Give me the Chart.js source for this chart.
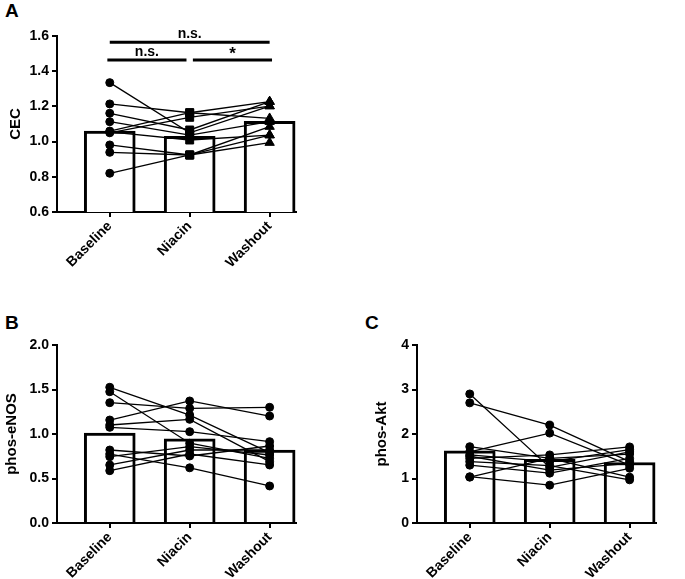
<!DOCTYPE html>
<html>
<head>
<meta charset="utf-8">
<script src="https://cdn.jsdelivr.net/npm/chart.js@4.4.1/dist/chart.umd.min.js"></script>
<style>
  body { margin: 0; background: #fff; width: 685px; height: 579px; position: relative; overflow: hidden;
         font-family: "Liberation Sans", Arial, sans-serif; }
  canvas { position: absolute; }
  .tag { position: absolute; font-weight: bold; font-size: 19px; line-height: 1; color: #000; }
</style>
</head>
<body>
<div class="tag" style="left:5px;top:1px">A</div>
<div class="tag" style="left:5px;top:313px">B</div>
<div class="tag" style="left:365px;top:313px">C</div>
<canvas id="cec" style="left:0;top:0" width="320" height="290"></canvas>
<canvas id="enos" style="left:0;top:300px" width="320" height="279"></canvas>
<canvas id="akt" style="left:360px;top:300px" width="320" height="279"></canvas>
<script>
const categories = ['Baseline', 'Niacin', 'Washout'];

// panel A - CEC, one row per subject (baseline, niacin, washout)
const cecMeans = [1.06, 1.03, 1.115];
const cecSubjects = [
    [1.335, 1.050, 1.202],
    [1.214, 1.164, 1.132],
    [1.161, 1.066, 1.227],
    [1.113, 1.037, 1.113],
    [1.060, 1.164, 1.227],
    [1.050, 1.138, 1.202],
    [0.981, 0.924, 1.085],
    [0.939, 0.924, 0.994],
    [0.820, 0.924, 1.037],
    [1.055, 1.009, 1.037]
];
const cecTicks = [0.6, 1.6, 0.2];
// significance brackets: from, to, value, label
const cecSig = [
    [0, 2, 1.565, 'n.s.'],
    [-0.03, 0.96, 1.463, 'n.s.'],
    [1.04, 2.03, 1.463, '*']
];

// panel B - phos-eNOS
const enosMeans = [1.01, 0.945, 0.82];
const enosSubjects = [
    [1.525, 1.213, 0.790],
    [1.475, 0.896, 0.727],
    [1.352, 1.288, 1.300],
    [1.157, 1.371, 1.202],
    [1.101, 1.165, 0.689],
    [1.075, 1.026, 0.914],
    [0.820, 0.753, 0.865],
    [0.775, 0.620, 0.416],
    [0.745, 0.857, 0.764],
    [0.652, 0.820, 0.820],
    [0.588, 0.775, 0.652]
];
const enosTicks = [0, 2, 0.5];

// panel C - phos-Akt
const aktMeans = [1.62, 1.43, 1.36];
const aktSubjects = [
    [2.90, 1.25, 1.60],
    [2.70, 2.20, 1.38],
    [1.60, 2.02, 1.30],
    [1.715, 1.45, 1.03],
    [1.53, 1.38, 1.65],
    [1.45, 1.53, 1.71],
    [1.38, 1.29, 0.97],
    [1.30, 1.12, 1.45],
    [1.04, 0.85, 1.23],
    [1.03, 1.45, 1.55],
    [1.50, 1.19, 1.34]
];
const aktTicks = [0, 4, 1];

const black = '#000';
const boldFont = size => ({ family: '"Liberation Sans", Arial, sans-serif', size: size, weight: 'bold' });

// draws the comparison brackets above the bars
const sigPlugin = {
    id: 'sig',
    afterDatasetsDraw(chart, args, opts) {
        const rows = opts.rows || [];
        const { ctx, scales: { x, y } } = chart;
        ctx.save();
        ctx.strokeStyle = black;
        ctx.fillStyle = black;
        ctx.lineWidth = 3;
        ctx.textAlign = 'center';
        ctx.textBaseline = 'bottom';
        rows.forEach(([from, to, val, label]) => {
            const x1 = x.getPixelForValue(from), x2 = x.getPixelForValue(to), py = y.getPixelForValue(val);
            ctx.beginPath();
            ctx.moveTo(x1, py);
            ctx.lineTo(x2, py);
            ctx.stroke();
            const star = label === '*';
            ctx.font = (star ? 'bold 17px' : 'bold 14px') + ' "Liberation Sans", Arial, sans-serif';
            ctx.fillText(label, (x1 + x2) / 2, star ? py + 3 : py - 1);
        });
        ctx.restore();
    }
};

function makePanel(id, means, subjects, ticks, decimals, title, opts) {
    const datasets = [{
        type: 'bar',
        data: means.map((v, i) => ({ x: i, y: v })),
        backgroundColor: '#fff',
        borderColor: black,
        borderWidth: 3,
        borderSkipped: 'bottom',
        barThickness: 51,
        order: 2
    }];
    subjects.forEach(s => datasets.push({
        type: 'line',
        data: s.map((v, i) => ({ x: i, y: v })),
        borderColor: black,
        borderWidth: 1.3,
        pointStyle: opts.shapes,
        pointRadius: opts.radii,
        pointBackgroundColor: black,
        pointBorderColor: black,
        pointBorderWidth: 1,
        fill: false,
        tension: 0,
        order: 1
    }));

    new Chart(document.getElementById(id), {
        type: 'bar',
        data: { datasets },
        plugins: [sigPlugin],
        options: {
            responsive: false,
            animation: false,
            events: [],
            layout: { padding: { top: opts.top, right: 24, left: 0, bottom: 0 } },
            plugins: {
                legend: { display: false },
                tooltip: { enabled: false },
                sig: { rows: opts.sig || [] }
            },
            scales: {
                x: {
                    type: 'linear',
                    min: -0.66,
                    max: 2.33,
                    offset: false,
                    afterBuildTicks: s => { s.ticks = categories.map((c, i) => ({ value: i })); },
                    afterFit: s => { s.height = opts.xHeight; },
                    ticks: {
                        callback: v => categories[v],
                        minRotation: 45,
                        maxRotation: 45,
                        autoSkip: false,
                        padding: 1,
                        color: black,
                        font: boldFont(14)
                    },
                    grid: { drawOnChartArea: false, offset: false, tickLength: 5, color: black, lineWidth: 2 },
                    border: { display: true, color: black, width: 2 }
                },
                y: {
                    min: ticks[0],
                    max: ticks[1],
                    afterFit: s => { s.width = 57; },
                    ticks: {
                        stepSize: ticks[2],
                        callback: v => v.toFixed(decimals),
                        padding: 3,
                        color: black,
                        font: boldFont(14)
                    },
                    grid: { drawOnChartArea: false, tickLength: 5, color: black, lineWidth: 2 },
                    border: { display: true, color: black, width: 2 },
                    title: {
                        display: true,
                        text: title,
                        color: black,
                        font: boldFont(15),
                        padding: { top: opts.titlePad, bottom: 0 }
                    }
                }
            }
        }
    });
}

makePanel('cec', cecMeans, cecSubjects, cecTicks, 1, 'CEC', {
    top: 36, xHeight: 78, titlePad: 7, sig: cecSig,
    shapes: ['circle', 'rect', 'triangle'], radii: [4, 5.6, 5.4]
});
makePanel('enos', enosMeans, enosSubjects, enosTicks, 1, 'phos-eNOS', {
    top: 45, xHeight: 56, titlePad: 3,
    shapes: 'circle', radii: 4
});
makePanel('akt', aktMeans, aktSubjects, aktTicks, 0, 'phos-Akt', {
    top: 45, xHeight: 56, titlePad: 13,
    shapes: 'circle', radii: 4
});
</script>
</body>
</html>
